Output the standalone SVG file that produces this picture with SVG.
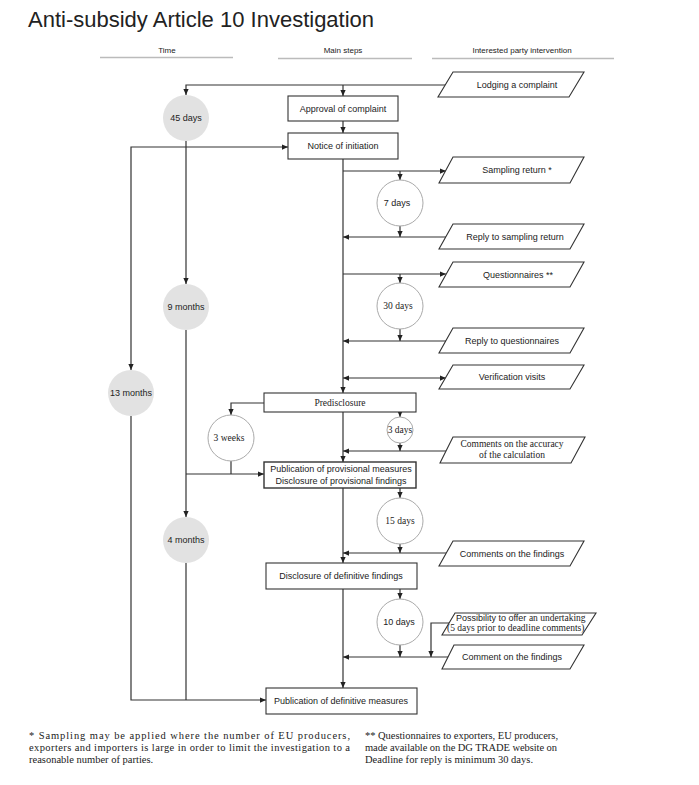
<svg xmlns="http://www.w3.org/2000/svg" width="699" height="785" viewBox="0 0 699 785">
<style>
.sans{font-family:"Liberation Sans",Arial,sans-serif;font-size:9px;fill:#222}
.serif{font-family:"Liberation Serif","Times New Roman",serif;font-size:9.5px;fill:#222}
.c{text-anchor:middle}
.box{fill:#fff;stroke:#333;stroke-width:1.1}
.para{fill:#fff;stroke:#333;stroke-width:1.1}
.gray{fill:#e2e2e2;stroke:none}
.wc{fill:#fff;stroke:#aaa;stroke-width:1}
.ln{fill:none;stroke:#333;stroke-width:1.2}
.ul{stroke:#bbb;stroke-width:1.6}
.foot{font-family:"Liberation Serif","Times New Roman",serif;font-size:10.5px;fill:#222}
</style>
<defs>
<marker id="ah" viewBox="0 0 8 8" refX="8" refY="4" markerWidth="6" markerHeight="6" markerUnits="userSpaceOnUse" orient="auto-start-reverse">
<path d="M0,0.5 L8,4 L0,7.5 Z" fill="#222"/>
</marker>
</defs>
<rect width="699" height="785" fill="#fff"/>
<text x="28" y="27" font-family="Liberation Sans, Arial, sans-serif" font-size="22" fill="#222">Anti-subsidy Article 10 Investigation</text>
<g id="headers">
<text x="167" y="53" class="sans c" style="font-size:8px">Time</text>
<text x="343" y="53" class="sans c" style="font-size:8px">Main steps</text>
<text x="522" y="53" class="sans c" style="font-size:8px">Interested party intervention</text>
<line x1="100" y1="57.5" x2="233" y2="57.5" class="ul"/>
<line x1="278" y1="58.5" x2="412" y2="58.5" class="ul"/>
<line x1="432" y1="58.5" x2="614" y2="58.5" class="ul"/>
</g>
<g id="connectors">
<path class="ln" d="M446,85 H186 V95" marker-end="url(#ah)"/>
<path class="ln" d="M343,85 V96" marker-end="url(#ah)"/>
<path class="ln" d="M343,121 V133" marker-end="url(#ah)"/>
<path class="ln" d="M186,141 V284" marker-end="url(#ah)"/>
<path class="ln" d="M131,370 V147 H288" marker-start="url(#ah)" marker-end="url(#ah)"/>
<path class="ln" d="M131,416 V700 H266" marker-end="url(#ah)"/>
<path class="ln" d="M186,330 V517" marker-end="url(#ah)"/>
<path class="ln" d="M186,563 V700"/>
<path class="ln" d="M343,159 V393" marker-end="url(#ah)"/>
<path class="ln" d="M343,171 H446" marker-end="url(#ah)"/>
<path class="ln" d="M400,171 V180" marker-end="url(#ah)"/>
<path class="ln" d="M400,226 V237" marker-end="url(#ah)"/>
<path class="ln" d="M446,237 H343" marker-end="url(#ah)"/>
<path class="ln" d="M343,274 H446" marker-end="url(#ah)"/>
<path class="ln" d="M400,274 V283" marker-end="url(#ah)"/>
<path class="ln" d="M400,329 V341" marker-end="url(#ah)"/>
<path class="ln" d="M446,341 H343" marker-end="url(#ah)"/>
<path class="ln" d="M343,378 H446" marker-start="url(#ah)" marker-end="url(#ah)"/>
<path class="ln" d="M264,403 H231 V415" marker-end="url(#ah)"/>
<path class="ln" d="M231,461 V474"/>
<path class="ln" d="M186,474 H264" marker-end="url(#ah)"/>
<path class="ln" d="M343,412 V462" marker-end="url(#ah)"/>
<path class="ln" d="M400,412 V417" marker-end="url(#ah)"/>
<path class="ln" d="M400,443 V451" marker-end="url(#ah)"/>
<path class="ln" d="M446,451 H343" marker-end="url(#ah)"/>
<path class="ln" d="M343,488 V563" marker-end="url(#ah)"/>
<path class="ln" d="M400,488 V498" marker-end="url(#ah)"/>
<path class="ln" d="M400,544 V553" marker-end="url(#ah)"/>
<path class="ln" d="M446,553 H343" marker-end="url(#ah)"/>
<path class="ln" d="M343,589 V688" marker-end="url(#ah)"/>
<path class="ln" d="M400,589 V599" marker-end="url(#ah)"/>
<path class="ln" d="M400,645 V657" marker-end="url(#ah)"/>
<path class="ln" d="M448,657 H343" marker-end="url(#ah)"/>
<path class="ln" d="M450,623 H431 V657" marker-end="url(#ah)"/>
</g>
<g id="n-approval"><rect class="box" x="288" y="96" width="110" height="25"/><text class="sans c" x="343" y="111.5">Approval of complaint</text></g>
<g id="n-notice"><rect class="box" x="288" y="133" width="110" height="26"/><text class="sans c" x="343" y="149">Notice of initiation</text></g>
<g id="n-predisclosure"><rect class="box" x="264" y="393" width="152" height="19"/><text class="serif c" x="340" y="405.5">Predisclosure</text></g>
<g id="n-provisional"><rect class="box" x="264" y="462" width="152" height="26" style="stroke-width:1.4"/><text class="sans c" x="341" y="471.5">Publication of provisional measures</text><text class="sans c" x="341" y="484">Disclosure of provisional findings</text></g>
<g id="n-def-findings"><rect class="box" x="266" y="563" width="151" height="26"/><text class="sans c" x="341" y="579">Disclosure of definitive findings</text></g>
<g id="n-def-measures"><rect class="box" x="266" y="688" width="151" height="26"/><text class="sans c" x="341" y="704">Publication of definitive measures</text></g>
<g id="t-45"><circle class="gray" cx="186" cy="118" r="23"/><text class="sans c" x="186" y="121">45 days</text></g>
<g id="t-9m"><circle class="gray" cx="186" cy="307" r="23"/><text class="sans c" x="186" y="310">9 months</text></g>
<g id="t-13m"><circle class="gray" cx="131" cy="393" r="23"/><text class="sans c" x="131" y="396">13 months</text></g>
<g id="t-4m"><circle class="gray" cx="186" cy="540" r="23"/><text class="sans c" x="186" y="543">4 months</text></g>
<g id="t-7d"><circle class="wc" cx="400" cy="203" r="23"/><text class="sans c" x="397" y="206">7 days</text></g>
<g id="t-30d"><circle class="wc" cx="400" cy="306" r="23"/><text class="serif c" x="398" y="309">30 days</text></g>
<g id="t-3w"><circle class="wc" cx="231" cy="438" r="23"/><text class="serif c" x="229" y="441">3 weeks</text></g>
<g id="t-3d"><circle class="wc" cx="400" cy="430" r="13"/><text class="serif c" x="400" y="433">3 days</text></g>
<g id="t-15d"><circle class="wc" cx="400" cy="521" r="23"/><text class="serif c" x="400" y="524">15 days</text></g>
<g id="t-10d"><circle class="wc" cx="400" cy="622" r="23"/><text class="sans c" x="399" y="625">10 days</text></g>
<g id="p-lodging"><polygon class="para" points="453,72 584,72 569,97 438,97"/><text class="sans c" x="517" y="88">Lodging a complaint</text></g>
<g id="p-sampling"><polygon class="para" points="453,157 584,157 570,183 439,183"/><text class="sans c" x="517" y="173">Sampling return *</text></g>
<g id="p-reply-sampling"><polygon class="para" points="453,224 584,224 570,249 439,249"/><text class="sans c" x="515" y="239.5">Reply to sampling return</text></g>
<g id="p-quest"><polygon class="para" points="453,262 584,262 570,287 439,287"/><text class="sans c" x="518" y="277.5">Questionnaires **</text></g>
<g id="p-reply-quest"><polygon class="para" points="453,328 584,328 570,353 439,353"/><text class="sans c" x="512" y="343.5">Reply to questionnaires</text></g>
<g id="p-verif"><polygon class="para" points="453,365 584,365 570,389 439,389"/><text class="sans c" x="512" y="380">Verification visits</text></g>
<g id="p-accuracy"><polygon class="para" points="453,437 585,437 571,463 440,463"/><text class="serif c" x="512" y="447">Comments on the accuracy</text><text class="serif c" x="512" y="458">of the calculation</text></g>
<g id="p-comments"><polygon class="para" points="453,541 584,541 570,566 439,566"/><text class="sans c" x="512" y="556.5">Comments on the findings</text></g>
<g id="p-undertaking"><polygon class="para" points="455,613 596,613 582,635 442,635"/><text class="sans" x="456" y="621">Possibility to offer <tspan class="serif">an undertaking</tspan></text><text class="serif" x="447" y="630.5">(5 days prior to deadline comments)</text></g>
<g id="p-comment"><polygon class="para" points="454,645 584,645 570,669 442,669"/><text class="sans c" x="512" y="660">Comment on the findings</text></g>
<g id="footnotes">
<text class="foot" x="29" y="739" textLength="321" lengthAdjust="spacing">* Sampling may be applied where the number of EU producers,</text>
<text class="foot" x="29" y="751" textLength="321" lengthAdjust="spacing">exporters and importers is large in order to limit the investigation to a</text>
<text class="foot" x="29" y="763">reasonable number of parties.</text>
<text class="foot" x="365" y="739" textLength="193" lengthAdjust="spacing">** Questionnaires to exporters, EU producers,</text>
<text class="foot" x="365" y="751" textLength="192" lengthAdjust="spacing">made available on the DG TRADE website on</text>
<text class="foot" x="365" y="763" textLength="168" lengthAdjust="spacing">Deadline for reply is minimum 30 days.</text>
</g>
</svg>
